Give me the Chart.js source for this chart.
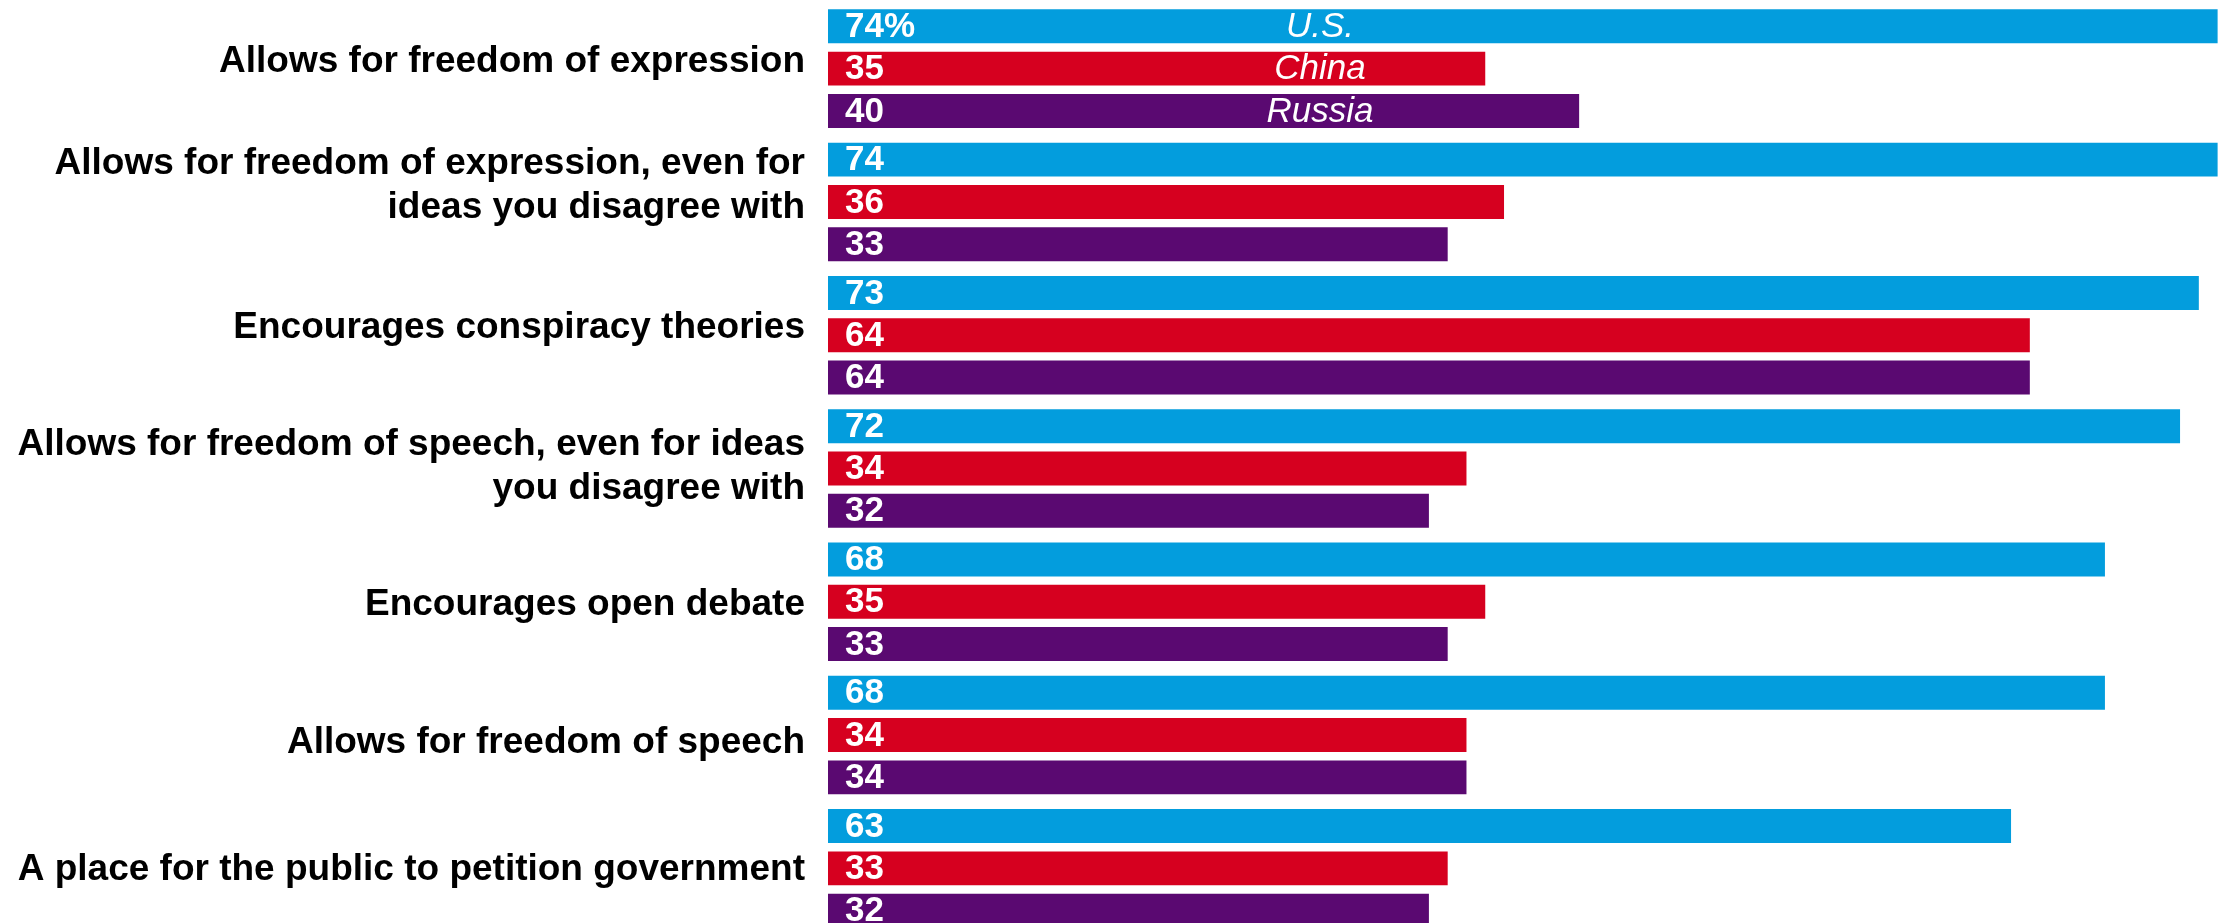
<!DOCTYPE html>
<html>
<head>
<meta charset="utf-8">
<script src="https://cdn.jsdelivr.net/npm/chart.js@4"></script>
<style>
  html, body { margin: 0; padding: 0; background: #fff; overflow: hidden; }
</style>
</head>
<body>
<canvas id="myChart" width="2227" height="940"></canvas>
<script>
// categories (multi-line where the original wraps)
const labels = [
  'Allows for freedom of expression',
  ['Allows for freedom of expression, even for', 'ideas you disagree with'],
  'Encourages conspiracy theories',
  ['Allows for freedom of speech, even for ideas', 'you disagree with'],
  'Encourages open debate',
  'Allows for freedom of speech',
  'A place for the public to petition government',
];

const seriesNames = ['U.S.', 'China', 'Russia'];
const usValues = [74, 74, 73, 72, 68, 68, 63];
const chinaValues = [35, 36, 64, 34, 35, 34, 33];
const russiaValues = [40, 33, 64, 32, 33, 34, 32];
const seriesColors = ['#039ddd', '#d6001f', '#5a0971'];

// the original's category labels are not all exactly centred on their group
const labelNudge = [-7, -16, -7, -2, 3, 8, 1];

const nudgeLabels = {
  id: 'nudgeLabels',
  beforeDraw(chart) {
    const items = chart.scales.y.getLabelItems();
    items.forEach((it, i) => {
      it.options.translation[1] += labelNudge[i] || 0;
    });
  }
};

// white value labels at the start of each bar, series names inside the first group
const barText = {
  id: 'barText',
  afterDatasetsDraw(chart) {
    const ctx = chart.ctx;
    const x0 = chart.scales.x.getPixelForValue(0);
    ctx.save();
    ctx.fillStyle = '#fff';
    ctx.textBaseline = 'middle';
    chart.data.datasets.forEach((ds, di) => {
      const meta = chart.getDatasetMeta(di);
      meta.data.forEach((bar, i) => {
        ctx.font = 'bold 35px "Liberation Sans", Arial, sans-serif';
        ctx.textAlign = 'left';
        let txt = String(ds.data[i]);
        if (di === 0 && i === 0) txt += '%';
        ctx.fillText(txt, x0 + 17, bar.y + 1);
        if (i === 0) {
          ctx.font = 'italic 35px "Liberation Sans", Arial, sans-serif';
          ctx.textAlign = 'center';
          ctx.fillText(ds.label, chart.scales.x.getPixelForValue(26.2), bar.y + 1);
        }
      });
    });
    ctx.restore();
  }
};

const data = {
  labels: labels,
  datasets: [
    { label: seriesNames[0], data: usValues, backgroundColor: seriesColors[0] },
    { label: seriesNames[1], data: chinaValues, backgroundColor: seriesColors[1] },
    { label: seriesNames[2], data: russiaValues, backgroundColor: seriesColors[2] },
  ]
};

const config = {
  type: 'bar',
  data: data,
  options: {
    indexAxis: 'y',
    responsive: false,
    animation: false,
    devicePixelRatio: 1,
    layout: { padding: { top: 2, bottom: 5, left: 0, right: 0 } },
    datasets: {
      bar: { categoryPercentage: 0.952, barPercentage: 0.803 }
    },
    plugins: {
      legend: { display: false },
      tooltip: { enabled: false },
      title: { display: false }
    },
    scales: {
      x: {
        display: false,
        min: 0,
        max: 74.5
      },
      y: {
        grid: { display: false, drawTicks: false },
        border: { display: false },
        ticks: {
          color: '#000',
          padding: 23,
          autoSkip: false,
          font: { family: '"Liberation Sans", Arial, sans-serif', size: 37, weight: 'bold', lineHeight: 1.19 }
        },
        afterFit(scale) {
          scale.width = 828;
          // labels sit inside their categories, so no extra room above/below
          scale.paddingTop = 0;
          scale.paddingBottom = 0;
        }
      }
    }
  },
  plugins: [nudgeLabels, barText]
};

const myChart = new Chart(document.getElementById('myChart'), config);
</script>
</body>
</html>
